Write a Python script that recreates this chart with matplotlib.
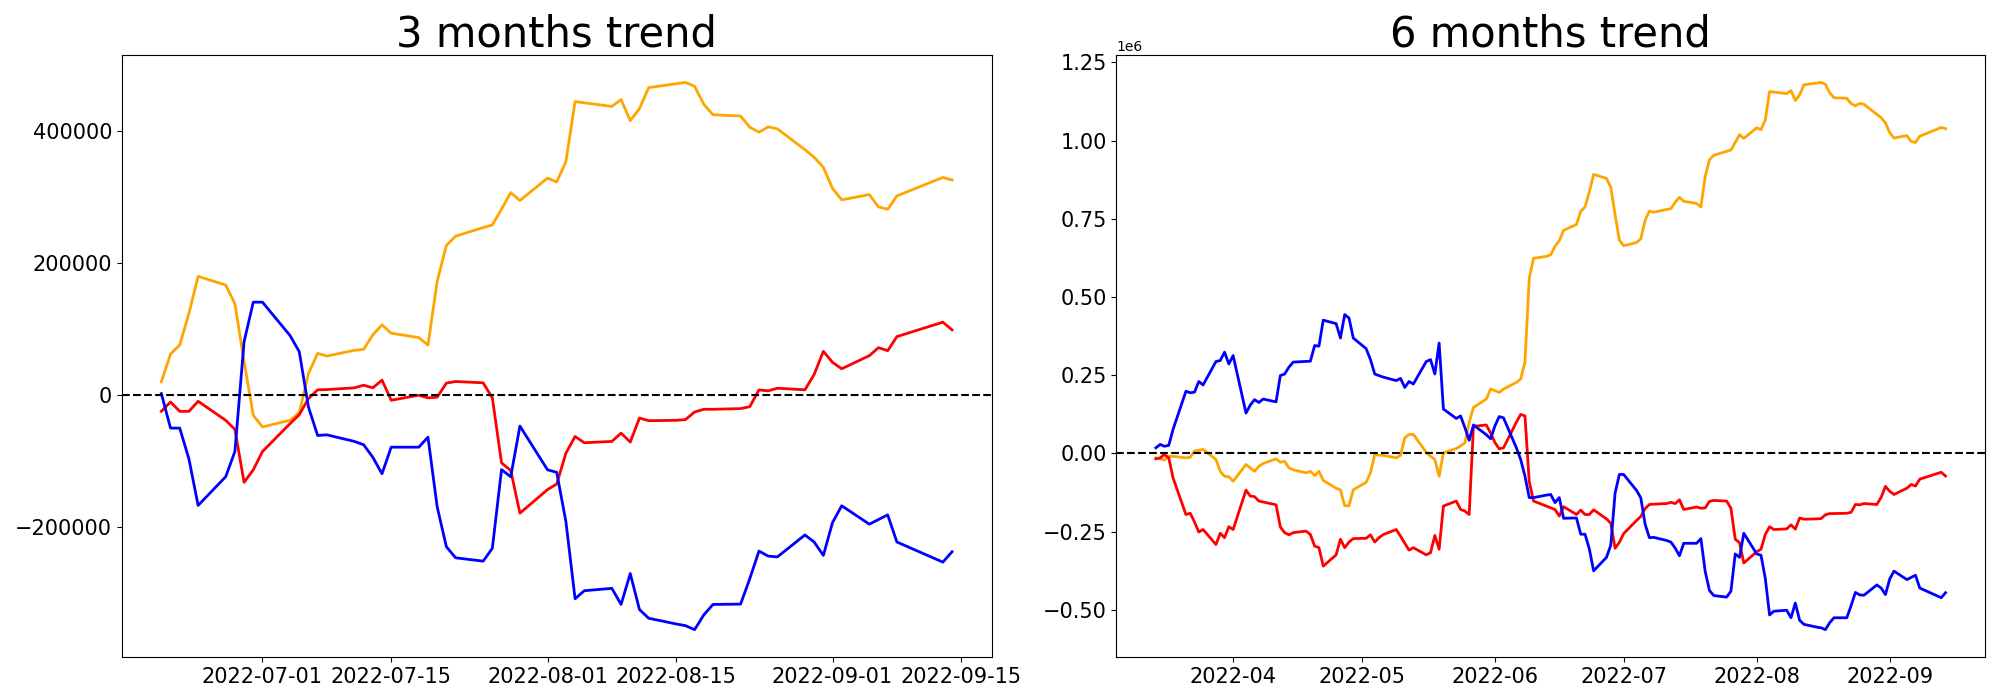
import numpy as np
import pandas as pd
import matplotlib
matplotlib.use("Agg")
import matplotlib.pyplot as plt

# business days, two days without data in September
missing_days = ["2022-09-09", "2022-09-12"]
dates_6m = pd.bdate_range("2022-03-14", "2022-09-14").drop(pd.to_datetime(missing_days))
dates_3m = dates_6m[dates_6m >= "2022-06-20"]

# 3 months, values in thousands
orange_3m = [19.3, 61.4, 75.1, 123, 179,
             166, 137.6, 50, -31.5, -49,
             -39, -27.4, 32, 62.4, 58.4,
             67, 68.5, 90.4, 105.6, 93,
             86.3, 75, 171.6, 226, 240,
             253, 257, 281, 306, 294,
             328, 322, 353, 444, 442,
             436.6, 447, 415, 433, 465,
             471, 473, 467, 439.7, 424,
             422, 405, 397.5, 405.6, 402.6,
             371, 359.5, 344.3, 312.3, 295,
             303, 284.3, 280.7, 301,
             329, 325]
red_3m = [-25.4, -11.2, -25.4, -25.4, -10.2,
          -39, -52.8, -133, -114, -86.3,
          -44, -30.5, -6.1, 7.1, 7.6,
          10.2, 14.2, 10.2, 21.8, -8.6,
          -1, -5, -4, 17.3, 19.8,
          17.8, -5, -103.6, -115, -179.7,
          -144, -135.6, -88.8, -63.5, -73,
          -71, -58.4, -72, -35.5, -39.6,
          -39, -38, -26.4, -22.3, -22.3,
          -21.3, -18.3, 7.1, 5.6, 9.6,
          7.2, 30.5, 65.5, 48.8, 39.1,
          58.9, 71.1, 66.5, 87.8,
          109.7, 98]
blue_3m = [1.5, -50.8, -50.8, -97.5, -168,
           -124.5, -86.3, 80.2, 140, 140,
           89.4, 65, -18.8, -62, -61,
           -71, -76, -95, -120, -79.7,
           -79.7, -64.5, -170, -230.5, -247.3,
           -252.4, -233, -113.7, -124.5, -47.7,
           -114, -117.8, -192.4, -309.4, -297.2,
           -293.6, -318, -271.2, -325.7, -338.9,
           -347.6, -350.1, -356.2, -333.8, -318,
           -317.5, -278.9, -237.1, -244.8, -246,
           -212.7, -223.4, -243.7, -193.9, -168.5,
           -196.4, -189.3, -182.3, -223.4,
           -253.9, -238.2]

# 6 months, values in millions
orange_6m = [-0.014, -0.017, -0.021, -0.009, -0.009,
             -0.014, -0.012, 0.008, 0.010, 0.013,
             -0.019, -0.057, -0.073, -0.074, -0.089,
             -0.035, -0.046, -0.057, -0.041, -0.032,
             -0.017, -0.028, -0.025, -0.046, -0.052,
             -0.062, -0.057, -0.071, -0.057, -0.086,
             -0.111, -0.116, -0.167, -0.167, -0.116,
             -0.092, -0.062, -0.003, -0.005, -0.006,
             -0.014, -0.006, 0.050, 0.061, 0.061,
             0.004, -0.009, -0.019, -0.073, 0.002,
             0.016, 0.024, 0.034, 0.099, 0.147,
             0.174, 0.206, 0.201, 0.195, 0.206,
             0.227, 0.238, 0.292, 0.560, 0.624,
             0.630, 0.635, 0.662, 0.680, 0.713,
             0.732, 0.774, 0.788, 0.836, 0.892,
             0.879, 0.851, 0.763, 0.682, 0.664,
             0.674, 0.686, 0.745, 0.775, 0.771,
             0.780, 0.782, 0.803, 0.819, 0.806,
             0.799, 0.788, 0.885, 0.939, 0.953,
             0.966, 0.970, 0.994, 1.019, 1.007,
             1.041, 1.035, 1.066, 1.157, 1.155,
             1.150, 1.160, 1.128, 1.146, 1.178,
             1.184, 1.186, 1.180, 1.153, 1.137,
             1.135, 1.118, 1.111, 1.119, 1.116,
             1.084, 1.073, 1.057, 1.025, 1.008,
             1.016, 0.997, 0.994, 1.014,
             1.042, 1.038]
red_6m = [-0.017, -0.014, -0.003, -0.014, -0.078,
          -0.195, -0.191, -0.219, -0.251, -0.243,
          -0.291, -0.255, -0.269, -0.234, -0.243,
          -0.117, -0.136, -0.138, -0.152, -0.155,
          -0.164, -0.235, -0.253, -0.260, -0.253,
          -0.248, -0.259, -0.296, -0.301, -0.360,
          -0.324, -0.274, -0.301, -0.283, -0.272,
          -0.271, -0.260, -0.283, -0.269, -0.259,
          -0.243, -0.264, -0.287, -0.309, -0.301,
          -0.324, -0.317, -0.262, -0.306, -0.168,
          -0.152, -0.179, -0.184, -0.195, 0.087,
          0.091, 0.065, 0.035, 0.015, 0.018,
          0.100, 0.125, 0.120, -0.090, -0.152,
          -0.168, -0.173, -0.179, -0.200, -0.170,
          -0.195, -0.181, -0.195, -0.195, -0.180,
          -0.209, -0.223, -0.303, -0.284, -0.256,
          -0.214, -0.201, -0.176, -0.163, -0.162,
          -0.160, -0.156, -0.160, -0.148, -0.179,
          -0.171, -0.175, -0.174, -0.153, -0.150,
          -0.152, -0.175, -0.274, -0.285, -0.350,
          -0.314, -0.306, -0.259, -0.234, -0.243,
          -0.241, -0.228, -0.242, -0.206, -0.210,
          -0.209, -0.208, -0.196, -0.192, -0.192,
          -0.191, -0.188, -0.163, -0.164, -0.160,
          -0.163, -0.140, -0.105, -0.121, -0.131,
          -0.111, -0.099, -0.104, -0.082,
          -0.060, -0.072]
blue_6m = [0.018, 0.029, 0.023, 0.026, 0.077,
           0.199, 0.194, 0.196, 0.230, 0.219,
           0.294, 0.297, 0.324, 0.286, 0.313,
           0.129, 0.155, 0.172, 0.163, 0.174,
           0.165, 0.249, 0.254, 0.276, 0.292,
           0.294, 0.295, 0.345, 0.343, 0.426,
           0.415, 0.369, 0.444, 0.433, 0.369,
           0.335, 0.300, 0.254, 0.249, 0.244,
           0.233, 0.240, 0.211, 0.230, 0.222,
           0.294, 0.300, 0.254, 0.353, 0.142,
           0.112, 0.120, 0.083, 0.042, 0.091,
           0.060, 0.047, 0.088, 0.118, 0.114,
           0.018, -0.019, -0.072, -0.141, -0.141,
           -0.133, -0.131, -0.157, -0.141, -0.207,
           -0.206, -0.258, -0.258, -0.305, -0.375,
           -0.332, -0.293, -0.127, -0.067, -0.067,
           -0.118, -0.142, -0.226, -0.269, -0.268,
           -0.278, -0.283, -0.302, -0.327, -0.287,
           -0.287, -0.272, -0.377, -0.438, -0.454,
           -0.459, -0.440, -0.321, -0.332, -0.255,
           -0.321, -0.325, -0.399, -0.516, -0.504,
           -0.501, -0.525, -0.478, -0.533, -0.546,
           -0.555, -0.557, -0.563, -0.541, -0.525,
           -0.525, -0.486, -0.444, -0.452, -0.453,
           -0.420, -0.430, -0.451, -0.401, -0.376,
           -0.403, -0.396, -0.389, -0.430,
           -0.461, -0.445]


def plot_trend(ax, dates, series, scale, title):
    for values, color in zip(series, ["orange", "red", "blue"]):
        ax.plot(dates, np.array(values) * scale, color=color, linewidth=2)
    ax.axhline(0, color="black", linestyle="--", linewidth=1.5)
    ax.set_title(title, fontsize=30)
    ax.tick_params(labelsize=15)


fig = plt.figure(figsize=(20, 7), dpi=100)
ax1 = fig.add_axes([0.0609, 0.0614, 0.4349, 0.86])
ax2 = fig.add_axes([0.5582, 0.0614, 0.4343, 0.86])

plot_trend(ax1, dates_3m, [orange_3m, red_3m, blue_3m], 1e3, "3 months trend")
plot_trend(ax2, dates_6m, [orange_6m, red_6m, blue_6m], 1e6, "6 months trend")

fig.savefig("out.png", dpi=100)
